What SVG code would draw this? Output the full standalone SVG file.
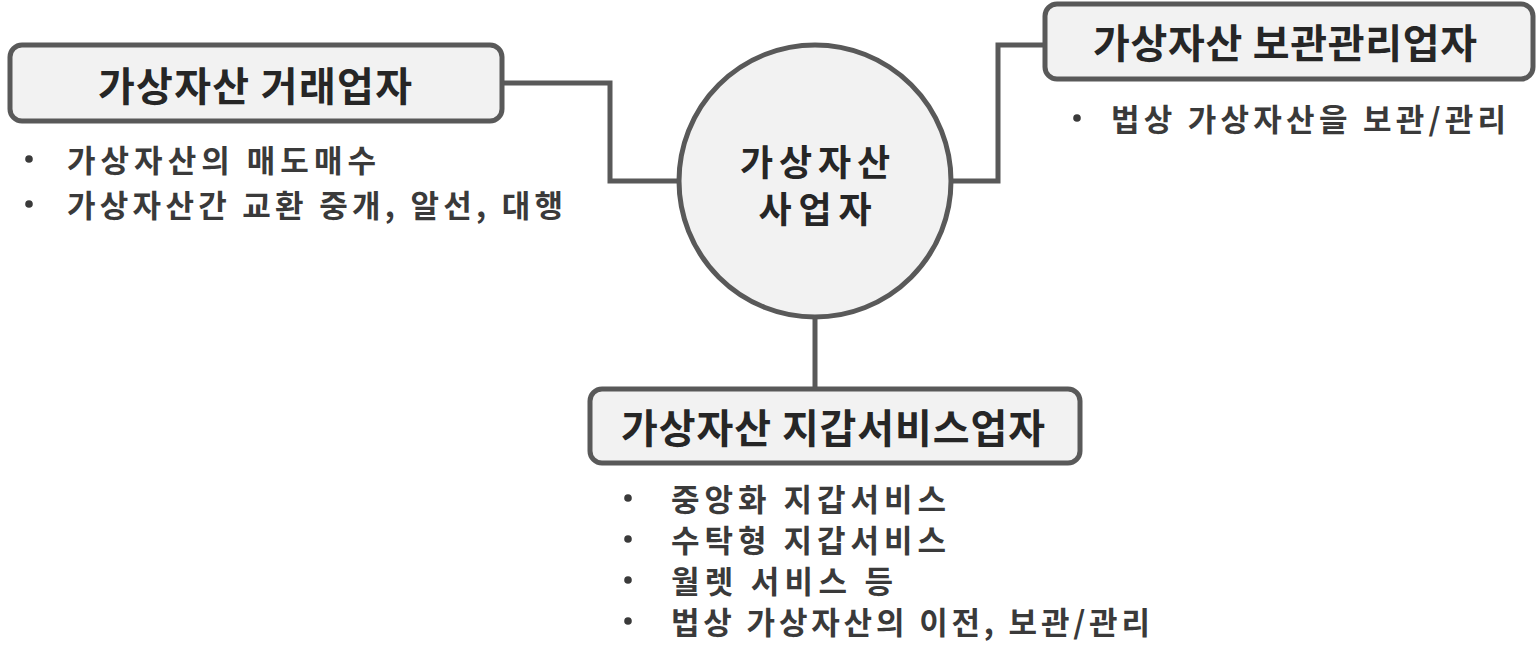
<svg xmlns="http://www.w3.org/2000/svg" width="1538" height="658" viewBox="0 0 1538 658">
<style>
.box{fill:#f2f2f2;stroke:#595959;stroke-width:5}
.conn{fill:none;stroke:#595959;stroke-width:5}
.title{font-family:"Noto Sans CJK KR","Noto Sans",sans-serif;font-weight:700;font-size:40px;fill:#262626;text-anchor:middle;dominant-baseline:central}
.hub{font-size:36px}
.item{font-family:"Noto Sans CJK KR","Noto Sans",sans-serif;font-weight:700;font-size:31px;fill:#3a3a3a;dominant-baseline:central}
.dot{fill:#3a3a3a}
</style>
<rect width="1538" height="658" fill="#ffffff"/>
<g id="connectors">
<path class="conn" d="M502,83 H610 V181 H679"/>
<path class="conn" d="M951,181 H998 V45 H1045"/>
<path class="conn" d="M815,317 V389"/>
</g>
<g id="center">
<circle class="box" cx="815" cy="181" r="136"/>
<text class="title hub"><tspan x="815" y="160" textLength="150" lengthAdjust="spacing">가상자산</tspan><tspan x="815" y="207" textLength="113" lengthAdjust="spacing">사업자</tspan></text>
</g>
<g id="exchange">
<rect class="box" x="10" y="45" width="492" height="76" rx="12"/>
<text class="title" x="255" y="84" textLength="314" lengthAdjust="spacing">가상자산 거래업자</text>
<circle class="dot" cx="29" cy="159" r="3.8"/>
<text class="item" x="67" y="158" textLength="309" lengthAdjust="spacing">가상자산의 매도매수</text>
<circle class="dot" cx="29" cy="204" r="3.8"/>
<text class="item" x="67" y="203" textLength="496" lengthAdjust="spacing">가상자산간 교환 중개, 알선, 대행</text>
</g>
<g id="custody">
<rect class="box" x="1045" y="4" width="488" height="75" rx="12"/>
<text class="title" x="1285" y="41" textLength="384" lengthAdjust="spacing">가상자산 보관관리업자</text>
<circle class="dot" cx="1077" cy="118" r="3.8"/>
<text class="item" x="1111" y="117" textLength="395" lengthAdjust="spacing">법상 가상자산을 보관/관리</text>
</g>
<g id="wallet">
<rect class="box" x="590" y="389" width="490" height="74" rx="12"/>
<text class="title" x="833" y="426" textLength="424" lengthAdjust="spacing">가상자산 지갑서비스업자</text>
<circle class="dot" cx="628" cy="498" r="3.8"/>
<text class="item" x="671" y="497" textLength="275" lengthAdjust="spacing">중앙화 지갑서비스</text>
<circle class="dot" cx="628" cy="539" r="3.8"/>
<text class="item" x="671" y="538" textLength="275" lengthAdjust="spacing">수탁형 지갑서비스</text>
<circle class="dot" cx="628" cy="580" r="3.8"/>
<text class="item" x="671" y="579" textLength="222" lengthAdjust="spacing">월렛 서비스 등</text>
<circle class="dot" cx="628" cy="621" r="3.8"/>
<text class="item" x="671" y="620" textLength="479" lengthAdjust="spacing">법상 가상자산의 이전, 보관/관리</text>
</g>
</svg>
